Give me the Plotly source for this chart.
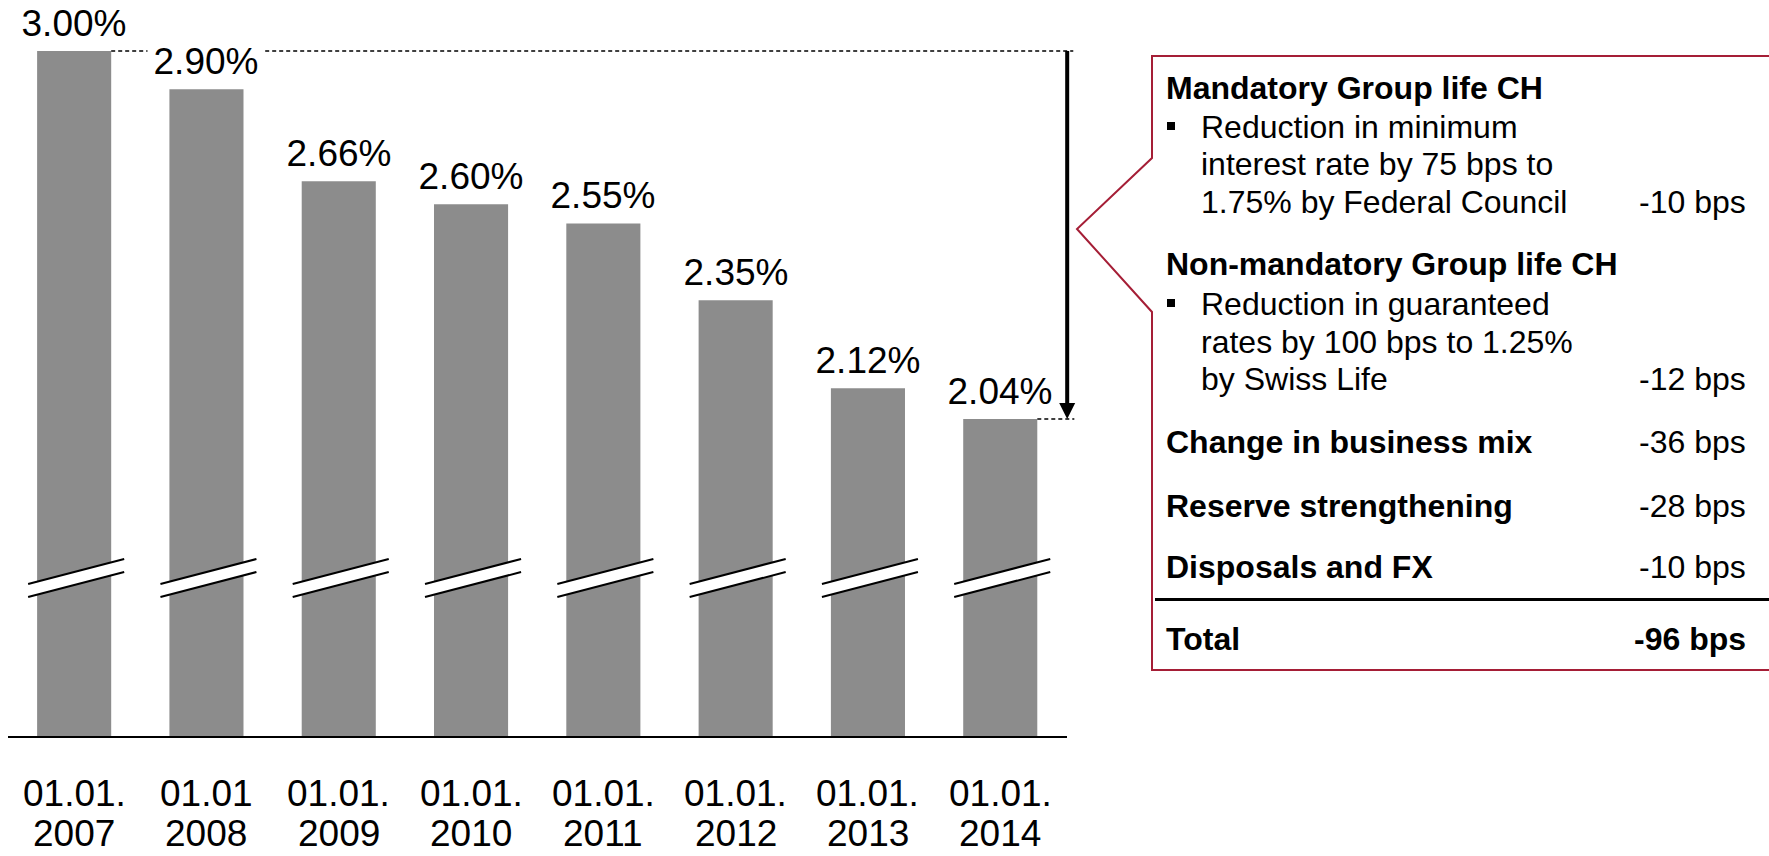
import plotly.graph_objects as go

# ---- data -------------------------------------------------------------
dates_day = ["01.01.", "01.01", "01.01.", "01.01.", "01.01.", "01.01.", "01.01.", "01.01."]
dates_year = ["2007", "2008", "2009", "2010", "2011", "2012", "2013", "2014"]
rates = [3.00, 2.90, 2.66, 2.60, 2.55, 2.35, 2.12, 2.04]

mandatory_title = "Mandatory Group life CH"
mandatory_lines = ["Reduction in minimum", "interest rate by 75 bps to", "1.75% by Federal Council"]
nonmandatory_title = "Non-mandatory Group life CH"
nonmandatory_lines = ["Reduction in guaranteed", "rates by 100 bps to 1.25%", "by Swiss Life"]
other_drivers = ["Change in business mix", "Reserve strengthening", "Disposals and FX"]
driver_bps = [-10, -12, -36, -28, -10]
total_label = "Total"
total_bps = -96

# ---- layout constants ------------------------------------------------
W, H = 1769, 856
FONT = "Liberation Sans, Arial, sans-serif"
BAR_COLOR = "#8C8C8C"
RED = "#A51E36"
BAR_W = 0.56
X_RANGE = [-0.5, 7.7]
Y_RANGE = [1.2104, 3.1330]
PX_PER_UNIT_X = 132.3
PX_PER_UNIT_Y = 383.33


def px_x(x):
    return x / W


def px_y(y):
    return 1 - y / H


fig = go.Figure(
    go.Bar(
        x=list(range(len(rates))),
        y=rates,
        width=BAR_W,
        marker=dict(color=BAR_COLOR, line=dict(width=0)),
        hoverinfo="skip",
    )
)

shapes = []
annotations = []

# axis break marks across every bar
brk_lo, brk_hi = 1.5756, 1.6408
brk_rise = 0.0340
bl, br = -0.348, 0.378
for i in range(len(rates)):
    shapes.append(dict(
        type="path", xref="x", yref="y",
        path=(f"M{i+bl},{brk_lo} L{i+br},{brk_hi} "
              f"L{i+br},{brk_hi+brk_rise} L{i+bl},{brk_lo+brk_rise} Z"),
        fillcolor="white", line=dict(width=0),
    ))
    shapes.append(dict(type="line", xref="x", yref="y",
                       x0=i + bl, y0=brk_lo, x1=i + br, y1=brk_hi,
                       line=dict(color="black", width=2)))
    shapes.append(dict(type="line", xref="x", yref="y",
                       x0=i + bl, y0=brk_lo + brk_rise, x1=i + br, y1=brk_hi + brk_rise,
                       line=dict(color="black", width=2)))

# baseline
shapes.append(dict(type="line", xref="paper", yref="paper",
                   x0=px_x(8), x1=px_x(1067), y0=px_y(737), y1=px_y(737),
                   line=dict(color="black", width=2)))

# dashed guides from first and last bar
arrow_x = 7.506
shapes.append(dict(type="line", xref="x", yref="y",
                   x0=BAR_W / 2, x1=7.552, y0=rates[0], y1=rates[0],
                   line=dict(color="black", width=1.3, dash="4px,3px")))
shapes.append(dict(type="line", xref="x", yref="y",
                   x0=len(rates) - 1 + BAR_W / 2, x1=7.56, y0=rates[-1], y1=rates[-1],
                   line=dict(color="black", width=1.3, dash="4px,3px")))

# decline arrow
head_h = 16 / PX_PER_UNIT_Y
head_w = 8 / PX_PER_UNIT_X
shapes.append(dict(type="line", xref="x", yref="y",
                   x0=arrow_x, x1=arrow_x, y0=rates[0], y1=rates[-1] + head_h * 0.9,
                   line=dict(color="black", width=4)))
shapes.append(dict(type="path", xref="x", yref="y",
                   path=(f"M{arrow_x},{rates[-1]} L{arrow_x-head_w},{rates[-1]+head_h} "
                         f"L{arrow_x+head_w},{rates[-1]+head_h} Z"),
                   fillcolor="black", line=dict(width=0)))

# callout frame
pts = [(1775, 56), (1152, 56), (1152, 158), (1077, 229), (1152, 312), (1152, 670), (1775, 670)]
path = "M" + " L".join(f"{px_x(x)},{px_y(y)}" for x, y in pts)
shapes.append(dict(type="path", xref="paper", yref="paper", path=path,
                   line=dict(color=RED, width=2), fillcolor="rgba(0,0,0,0)"))
# total separator
shapes.append(dict(type="line", xref="paper", yref="paper",
                   x0=px_x(1155), x1=px_x(1775), y0=px_y(599.5), y1=px_y(599.5),
                   line=dict(color="black", width=3)))

# value labels
VAL_FS = 37
for i, v in enumerate(rates):
    annotations.append(dict(
        x=i, y=v, xref="x", yref="y", text=f"{v:.2f}%", showarrow=False,
        yanchor="bottom", xanchor="center", yshift=5, width=114,
        bgcolor="white", borderpad=1,
        font=dict(family=FONT, size=VAL_FS, color="black"),
    ))

# category labels (two lines)
CAT_FS = 37
for i, (d, yr) in enumerate(zip(dates_day, dates_year)):
    for txt, base in ((d, 806), (yr, 846)):
        annotations.append(dict(
            x=i, xref="x", y=px_y(base - 0.3465 * CAT_FS), yref="paper",
            text=txt, showarrow=False, xanchor="center", yanchor="middle",
            borderpad=0,
            font=dict(family=FONT, size=CAT_FS, color="black"),
        ))

# callout text
BOX_FS = 32
X_HEAD, X_BODY, X_VAL = 1164, 1199, 1748


def box_text(txt, x, base, bold=False, anchor="left"):
    annotations.append(dict(
        x=px_x(x), y=px_y(base - 0.3465 * BOX_FS), xref="paper", yref="paper",
        text=f"<b>{txt}</b>" if bold else txt, showarrow=False,
        xanchor=anchor, yanchor="middle",
        font=dict(family=FONT, size=BOX_FS, color="black"),
    ))


def bullet(base):
    cy = base - 12
    shapes.append(dict(type="rect", xref="paper", yref="paper",
                       x0=px_x(1167), x1=px_x(1175), y0=px_y(cy - 4), y1=px_y(cy + 4),
                       fillcolor="black", line=dict(width=0)))


def fmt_bps(v):
    return f"{v} bps"


box_text(mandatory_title, X_HEAD, 99, bold=True)
for line, base in zip(mandatory_lines, (138, 175.5, 213)):
    box_text(line, X_BODY, base)
bullet(138)
box_text(fmt_bps(driver_bps[0]), X_VAL, 213, anchor="right")

box_text(nonmandatory_title, X_HEAD, 275, bold=True)
for line, base in zip(nonmandatory_lines, (315, 353, 390)):
    box_text(line, X_BODY, base)
bullet(315)
box_text(fmt_bps(driver_bps[1]), X_VAL, 390, anchor="right")

for name, bps, base in zip(other_drivers, driver_bps[2:], (453, 517, 578)):
    box_text(name, X_HEAD, base, bold=True)
    box_text(fmt_bps(bps), X_VAL, base, anchor="right")

box_text(total_label, X_HEAD, 650, bold=True)
box_text(fmt_bps(total_bps), X_VAL, 650, bold=True, anchor="right")

fig.update_layout(
    width=W, height=H,
    margin=dict(l=0, r=0, t=0, b=0),
    paper_bgcolor="white", plot_bgcolor="white",
    showlegend=False,
    xaxis=dict(domain=[px_x(8), px_x(8 + (X_RANGE[1] - X_RANGE[0]) * PX_PER_UNIT_X)],
               range=X_RANGE, showticklabels=False, showgrid=False,
               zeroline=False, showline=False, ticks=""),
    yaxis=dict(domain=[px_y(737), 1], range=Y_RANGE, showticklabels=False,
               showgrid=False, zeroline=False, showline=False, ticks=""),
    shapes=shapes,
    annotations=annotations,
    font=dict(family=FONT),
)

fig.write_html("out.html")
